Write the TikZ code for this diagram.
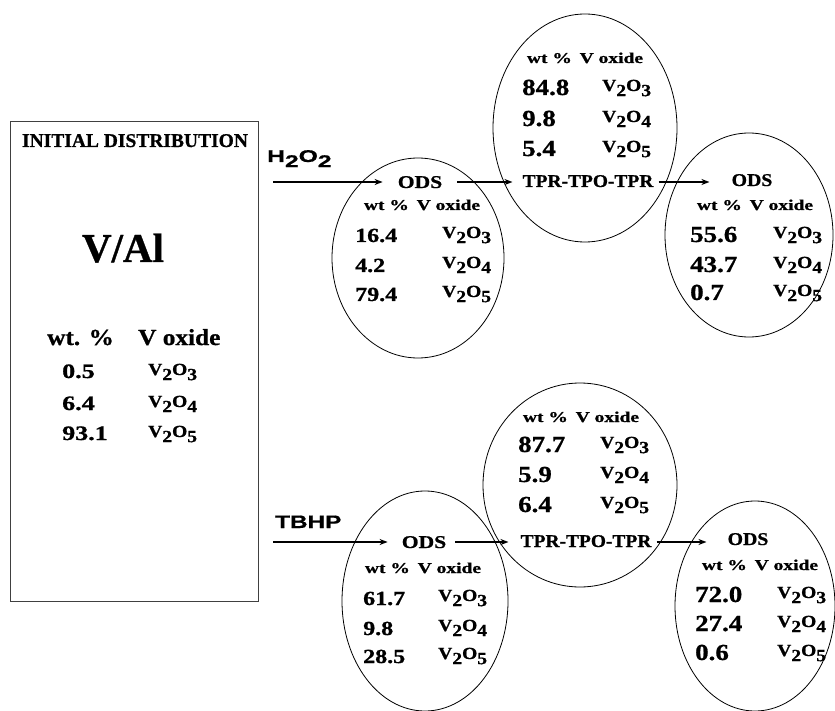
\documentclass[tikz,border=0pt]{standalone}
\usepackage{fontspec}
\setmainfont{Liberation Serif}
\newfontfamily\hb{Liberation Serif Bold}[FakeBold=0.8]
\newfontfamily\arialfont{Liberation Sans Bold}[FakeBold=0.6]
\usepackage{graphicx}
\usetikzlibrary{arrows.meta,shapes.geometric}
\newcommand{\W}[2]{\scalebox{#1}[1]{#2}}
\newcommand{\ox}[1]{V\raisebox{-0.3em}{2}O\raisebox{-0.3em}{#1}}
\begin{document}
\begin{tikzpicture}[x=1pt,y=-1pt,
  oval/.style={draw, ellipse, line width=0.8pt, inner sep=0},
  num/.style={anchor=base west, inner sep=0, font=\hb\fontsize{20}{20}\selectfont},
  bnum/.style={anchor=base west, inner sep=0, font=\hb\fontsize{23}{23}\selectfont},
  oxs/.style={anchor=base west, inner sep=0, font=\hb\fontsize{17}{17}\selectfont},
  hdr/.style={anchor=base, inner sep=0, font=\hb\fontsize{15}{15}\selectfont},
  lbl/.style={anchor=base, inner sep=0, font=\hb\fontsize{18}{18}\selectfont},
  sans/.style={anchor=base west, inner sep=0, font=\arialfont\fontsize{17}{17}\selectfont},
  arr/.style={-{Stealth[length=8pt,width=6pt]}, line width=1.5pt}]
\useasboundingbox (0,0) rectangle (835,711);
\fill[white] (0,0) rectangle (835,711);

% initial distribution box
\node[draw=black!75, line width=1.3pt, minimum width=248pt, minimum height=480pt, inner sep=0, anchor=north west] (init) at (10,121) {};
\node[anchor=base, inner sep=0, font=\hb\fontsize{19.5}{19.5}\selectfont] (title) at (135,147) {INITIAL DISTRIBUTION};
\node[anchor=base, inner sep=0, font=\hb\fontsize{41}{41}\selectfont] (val) at (123,262) {V/Al};
\node[anchor=base west, inner sep=0, font=\hb\fontsize{23}{23}\selectfont] (bh1) at (47,345) {\W{1.1}{wt. \%}};
\node[anchor=base west, inner sep=0, font=\hb\fontsize{23}{23}\selectfont] (bh2) at (138,345) {\W{1.1}{V oxide}};
\foreach \v/\o/\y [count=\i] in {0.5/3/378, 6.4/4/410, 93.1/5/440} {
  \node[anchor=base west, inner sep=0, font=\hb\fontsize{20.5}{20.5}\selectfont] (bn\i) at (62,\y) {\W{1.27}{\v}};
  \node[oxs] (bo\i) at (148,\y-3) {\W{1.15}{\ox{\o}}};
}

% ellipses
\node[oval, minimum width=172pt, minimum height=200pt] (ov1) at (418,258) {};
\node[oval, minimum width=184pt, minimum height=228pt] (ov2) at (585,128) {};
\node[oval, minimum width=168pt, minimum height=204pt] (ov3) at (749,235) {};
\node[oval, minimum width=166pt, minimum height=220pt] (ov4) at (425,601) {};
\node[oval, minimum width=194pt, minimum height=204pt] (ov5) at (580,485) {};
\node[oval, minimum width=160pt, minimum height=210pt] (ov6) at (755,606) {};

% ---- H2O2 route ----
\node[sans] (h2o2) at (267,162) {\W{1.45}{H\raisebox{-0.3em}{2}O\raisebox{-0.3em}{2}}};
\node[lbl] (ods1) at (420,188) {\W{1.2}{ODS}};
\node[hdr] (e1h) at (422,210) {\W{1.3}{wt \%\hspace{0.4em}V oxide}};
\foreach \v/\o/\y [count=\i] in {16.4/3/242, 4.2/4/272, 79.4/5/301} {
  \node[num] (e1n\i) at (355,\y) {\W{1.2}{\v}};
  \node[oxs] (e1o\i) at (442,\y-4) {\W{1.15}{\ox{\o}}};
}
\node[hdr] (e2h) at (585,63) {\W{1.3}{wt \%\hspace{0.4em}V oxide}};
\foreach \v/\o/\y [count=\i] in {84.8/3/95, 9.8/4/126, 5.4/5/156} {
  \node[bnum] (e2n\i) at (522,\y) {\W{1.17}{\v}};
  \node[oxs] (e2o\i) at (602,\y-4) {\W{1.15}{\ox{\o}}};
}
\node[lbl] (tpr1) at (588,187) {\W{1.08}{TPR-TPO-TPR}};
\node[lbl] (ods3) at (752,186) {\W{1.1}{ODS}};
\node[hdr] (e3h) at (755,210) {\W{1.3}{wt \%\hspace{0.4em}V oxide}};
\foreach \v/\o/\y [count=\i] in {55.6/3/242, 43.7/4/272, 0.7/5/300} {
  \node[bnum] (e3n\i) at (690,\y) {\W{1.17}{\v}};
  \node[oxs] (e3o\i) at (773,\y-4) {\W{1.15}{\ox{\o}}};
}
\coordinate (h0) at (273,182);
\draw[arr, shorten >=15pt] (h0) -- (h0 -| ods1.west);
\draw[arr, shorten <=15pt, shorten >=10pt] (ods1.east |- h0) -- (h0 -| tpr1.west);
\draw[arr, shorten <=5pt, shorten >=22pt] (tpr1.east |- h0) -- (h0 -| ods3.west);

% ---- TBHP route ----
\node[sans, font=\arialfont\fontsize{18}{18}\selectfont] (tbhp) at (275,528) {\W{1.35}{TBHP}};
\node[lbl] (ods4) at (424,548) {\W{1.2}{ODS}};
\node[hdr] (e4h) at (423,573) {\W{1.3}{wt \%\hspace{0.4em}V oxide}};
\foreach \v/\o/\y [count=\i] in {61.7/3/605, 9.8/4/635, 28.5/5/663} {
  \node[num] (e4n\i) at (363,\y) {\W{1.2}{\v}};
  \node[oxs] (e4o\i) at (438,\y-4) {\W{1.15}{\ox{\o}}};
}
\node[hdr] (e5h) at (581,422) {\W{1.3}{wt \%\hspace{0.4em}V oxide}};
\foreach \v/\o/\y [count=\i] in {87.7/3/452, 5.9/4/482, 6.4/5/512} {
  \node[bnum] (e5n\i) at (518,\y) {\W{1.17}{\v}};
  \node[oxs] (e5o\i) at (600,\y-4) {\W{1.15}{\ox{\o}}};
}
\node[lbl] (tpr2) at (586,547) {\W{1.08}{TPR-TPO-TPR}};
\node[lbl] (ods6) at (748,545) {\W{1.1}{ODS}};
\node[hdr] (e6h) at (760,570) {\W{1.3}{wt \%\hspace{0.4em}V oxide}};
\foreach \v/\o/\y [count=\i] in {72.0/3/602, 27.4/4/631, 0.6/5/660} {
  \node[bnum] (e6n\i) at (695,\y) {\W{1.17}{\v}};
  \node[oxs] (e6o\i) at (777,\y-4) {\W{1.15}{\ox{\o}}};
}
\coordinate (t0) at (273,542);
\draw[arr, shorten >=14pt] (t0) -- (t0 -| ods4.west);
\draw[arr, shorten <=9pt, shorten >=12pt] (ods4.east |- t0) -- (t0 -| tpr2.west);
\draw[arr, shorten <=5pt, shorten >=21pt] (tpr2.east |- t0) -- (t0 -| ods6.west);
\end{tikzpicture}
\end{document}
